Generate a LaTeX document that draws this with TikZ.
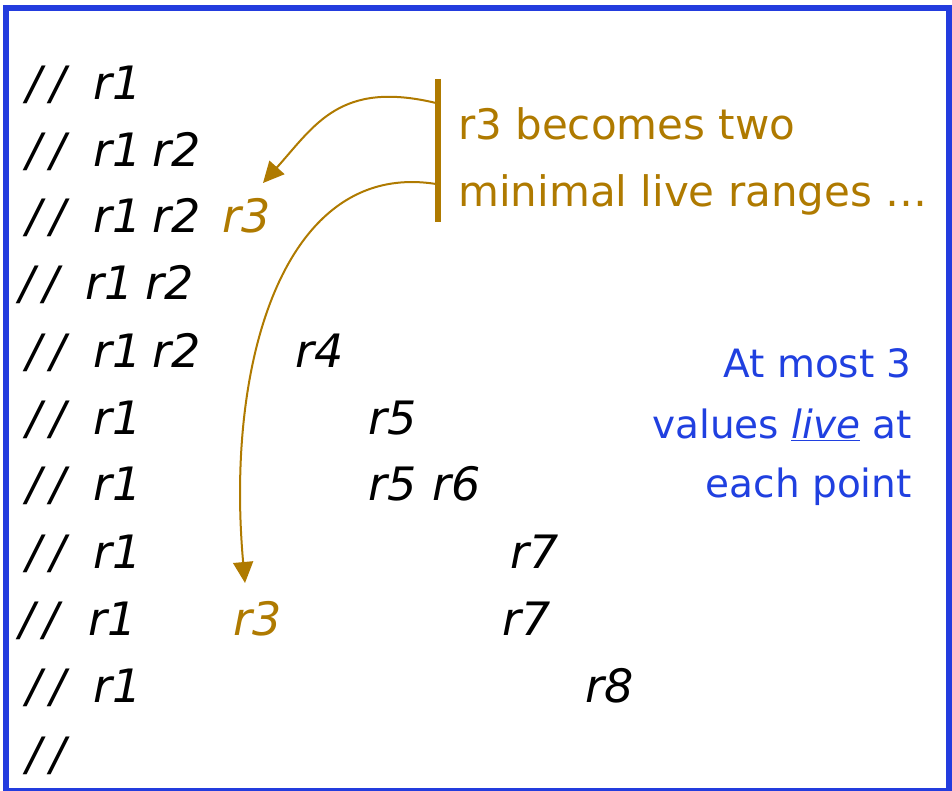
\documentclass[tikz,border=0pt]{standalone}
\usepackage{fontspec}
\setmainfont{DejaVu Sans}
\usetikzlibrary{arrows.meta}
\definecolor{gold}{RGB}{175,122,0}
\definecolor{bluetxt}{RGB}{32,64,224}
\definecolor{framecol}{RGB}{35,60,222}
\newcommand{\twoslash}{/\kern9pt/}
\begin{document}
\begin{tikzpicture}[x=1pt,y=-1pt,
 tok/.style={anchor=base west,inner sep=0pt,font=\fontsize{46}{52}\selectfont\itshape},
 gtok/.style={tok,text=gold},
 captxt/.style={anchor=base west,inner sep=0pt,text=gold,font=\fontsize{42}{48}\selectfont},
 notetxt/.style={anchor=base east,inner sep=0pt,text=bluetxt,font=\fontsize{39}{44}\selectfont},
 conn/.style={draw=gold,line width=2pt,-{Triangle[length=21pt,width=20pt]}},
 bracket/.style={draw=gold,line width=6pt}
]
\useasboundingbox (0,0) rectangle (952,791);
\clip (0,0) rectangle (952,791);
\draw[framecol,line width=6pt] (6,8) rectangle (949,791);

% row 1
\node[tok] (s1) at (26,100) {\twoslash};
\node[tok] (a1) at (93,100) {r1};
% row 2
\node[tok] (s2) at (26,167) {\twoslash};
\node[tok] (a2) at (93,167) {r1};
\node[tok] (b2) at (152,167) {r2};
% row 3
\node[tok] (s3) at (26,233) {\twoslash};
\node[tok] (a3) at (93,233) {r1};
\node[tok] (b3) at (152,233) {r2};
\node[gtok] (c3) at (222,233) {r3};
% row 4
\node[tok] (s4) at (19,300) {\twoslash};
\node[tok] (a4) at (85,300) {r1};
\node[tok] (b4) at (145,300) {r2};
% row 5
\node[tok] (s5) at (26,367) {\twoslash};
\node[tok] (a5) at (93,367) {r1};
\node[tok] (b5) at (152,367) {r2};
\node[tok] (d5) at (295,367) {r4};
% row 6
\node[tok] (s6) at (26,434) {\twoslash};
\node[tok] (a6) at (93,434) {r1};
\node[tok] (e6) at (368,434) {r5};
% row 7
\node[tok] (s7) at (26,500) {\twoslash};
\node[tok] (a7) at (93,500) {r1};
\node[tok] (e7) at (368,500) {r5};
\node[tok] (f7) at (432,500) {r6};
% row 8
\node[tok] (s8) at (26,568) {\twoslash};
\node[tok] (a8) at (93,568) {r1};
\node[tok] (g8) at (510,568) {r7};
% row 9
\node[tok] (s9) at (19,635) {\twoslash};
\node[tok] (a9) at (88,635) {r1};
\node[gtok] (c9) at (233,635) {r3};
\node[tok] (g9) at (502,635) {r7};
% row 10
\node[tok] (s10) at (26,702) {\twoslash};
\node[tok] (a10) at (93,702) {r1};
\node[tok] (h10) at (585,702) {r8};
% row 11
\node[tok] (s11) at (26,770) {\twoslash};

% caption
\node[captxt] (cap1) at (458,140) {r3 becomes two};
\node[captxt] (cap2) at (458,207) {minimal live ranges …};

% note
\node[notetxt] (n1) at (912,377) {At most 3};
\node[notetxt] (n2) at (912,438) {values \underline{\textit{live}} at};
\node[notetxt] (n3) at (912,497) {each point};

% bracket and arrows
\coordinate (brtop) at (438,79);
\coordinate (brbot) at (438,222);
\draw[bracket] (brtop) -- (brbot);
\coordinate (u0) at (436,103);
\coordinate (l0) at (436,184);
\coordinate (t1) at (263,183);
\coordinate (t2) at (245,583);
\draw[conn] (u0) .. controls (340,80) and (315,125) .. (t1);
\draw[conn] (l0) .. controls (285,160) and (225,360) .. (t2);
\end{tikzpicture}
\end{document}
